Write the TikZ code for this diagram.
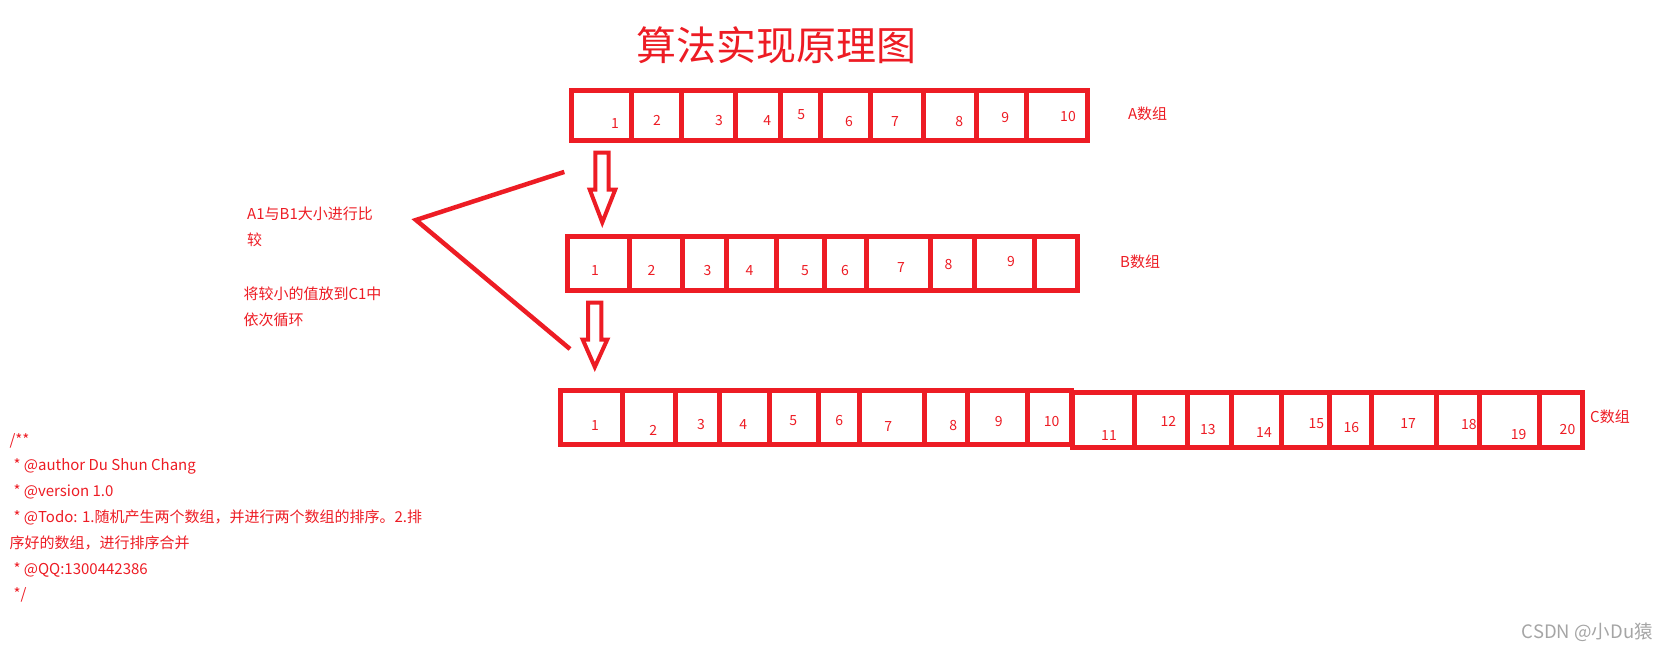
\documentclass[tikz,border=0pt]{standalone}
\usepackage{fontspec}
\setmainfont{Noto Sans CJK SC}
\usepackage{xcolor}
\definecolor{paintred}{RGB}{237,28,36}
\definecolor{markgray}{RGB}{165,165,165}

\begin{document}
\begin{tikzpicture}[x=1pt, y=-1pt,
    box/.style={draw=paintred, line width=5pt},
    hollow/.style={draw=paintred, line width=4pt, line join=miter},
    cell/.style={text=paintred, font=\fontsize{14}{16}\selectfont, inner sep=0pt, anchor=base},
    note/.style={text=paintred, font=\fontsize{15}{17}\selectfont, inner sep=0pt, anchor=base west}]
    \useasboundingbox (0,0) rectangle (1673,648);

    % title
    \node[note, font=\fontsize{40}{45}\selectfont] (title) at (636,60) {算法实现原理图};

    % A array
    \draw[box] (571.7,90.7) rectangle (1087.5,140.3);
    \draw[box] (631,90.7) -- (631,140.3) (681.5,90.7) -- (681.5,140.3)
        (735.5,90.7) -- (735.5,140.3) (780.2,90.7) -- (780.2,140.3)
        (820.4,90.7) -- (820.4,140.3) (870.2,90.7) -- (870.2,140.3)
        (923.8,90.7) -- (923.8,140.3) (976.6,90.7) -- (976.6,140.3)
        (1026.3,90.7) -- (1026.3,140.3);
    \node[cell] (a1) at (614.9,128.5) {1};
    \node[cell] (a2) at (657,125.2) {2};
    \node[cell] (a3) at (719,125.2) {3};
    \node[cell] (a4) at (767.2,125.2) {4};
    \node[cell] (a5) at (801.3,119.2) {5};
    \node[cell] (a6) at (849.1,126.9) {6};
    \node[cell] (a7) at (895,126.9) {7};
    \node[cell] (a8) at (959.3,126.9) {8};
    \node[cell] (a9) at (1005.3,122.9) {9};
    \node[cell] (a10) at (1068,121.2) {10};
    \node[note] (nameA) at (1127.8,119.6) {A数组};

    % B array
    \draw[box] (567.9,236.5) rectangle (1077.2,290);
    \draw[box] (629.6,236.5) -- (629.6,290) (682.5,236.5) -- (682.5,290)
        (726.4,236.5) -- (726.4,290) (776,236.5) -- (776,290)
        (824.5,236.5) -- (824.5,290) (866.4,236.5) -- (866.4,290)
        (930,236.5) -- (930,290) (974.6,236.5) -- (974.6,290)
        (1034,236.5) -- (1034,290);
    \node[cell] (b1) at (595,275.2) {1};
    \node[cell] (b2) at (651.4,275.2) {2};
    \node[cell] (b3) at (707.5,275.2) {3};
    \node[cell] (b4) at (749.6,275.2) {4};
    \node[cell] (b5) at (805,275.2) {5};
    \node[cell] (b6) at (845,275.2) {6};
    \node[cell] (b7) at (901,272.5) {7};
    \node[cell] (b8) at (948.6,269.2) {8};
    \node[cell] (b9) at (1011,266.9) {9};
    \node[note] (nameB) at (1120,267.9) {B数组};

    % C array, drawn in two halves
    \draw[box] (560.8,390.7) rectangle (1071.5,444.7);
    \draw[box] (1072,392.5) rectangle (1582.5,447);
    \draw[box] (622.3,390.7) -- (622.3,444.7) (675.5,390.7) -- (675.5,444.7)
        (719.3,390.7) -- (719.3,444.7) (769.7,390.7) -- (769.7,444.7)
        (818,390.7) -- (818,444.7) (859.4,390.7) -- (859.4,444.7)
        (924,390.7) -- (924,444.7) (967,390.7) -- (967,444.7)
        (1027.9,390.7) -- (1027.9,444.7);
    \draw[box] (1134,392.5) -- (1134,447) (1187.5,392.5) -- (1187.5,447)
        (1231.5,392.5) -- (1231.5,447) (1281.3,392.5) -- (1281.3,447)
        (1329.1,392.5) -- (1329.1,447) (1371.2,392.5) -- (1371.2,447)
        (1436.3,392.5) -- (1436.3,447) (1479.2,392.5) -- (1479.2,447)
        (1539.6,392.5) -- (1539.6,447);
    \node[cell] (c1) at (595,430.9) {1};
    \node[cell] (c2) at (653.3,435.2) {2};
    \node[cell] (c3) at (701,429.2) {3};
    \node[cell] (c4) at (743.3,429.2) {4};
    \node[cell] (c5) at (793.3,425.2) {5};
    \node[cell] (c6) at (839.3,425.2) {6};
    \node[cell] (c7) at (888.3,431.9) {7};
    \node[cell] (c8) at (953.3,430.9) {8};
    \node[cell] (c9) at (998.7,426.9) {9};
    \node[cell] (c10) at (1051.7,426.9) {10};
    \node[cell] (c11) at (1109,440.5) {11};
    \node[cell] (c12) at (1168.4,426.8) {12};
    \node[cell] (c13) at (1207.8,434.2) {13};
    \node[cell] (c14) at (1264,437.2) {14};
    \node[cell] (c15) at (1316.3,428.2) {15};
    \node[cell] (c16) at (1351.3,432) {16};
    \node[cell] (c17) at (1408.2,428.5) {17};
    \node[cell] (c18) at (1468.8,429.9) {18};
    \node[cell] (c19) at (1518.6,439.5) {19};
    \node[cell] (c20) at (1567.5,434.2) {20};
    \node[note] (nameC) at (1590,422.6) {C数组};

    % hollow arrows A -> B -> C
    \draw[hollow] (595.3,152.7) -- (608.7,152.7) -- (608.7,189.5) -- (615.3,189.5)
        -- (602.3,222.4) -- (589.7,189.5) -- (595.3,189.5) -- cycle;
    \draw[hollow] (588,302.7) -- (601.3,302.7) -- (601.3,339.5) -- (607.3,339.5)
        -- (594.8,367) -- (582.7,339.5) -- (588,339.5) -- cycle;

    % compare bracket
    \coordinate (cmpA) at (564.3,171.9);
    \coordinate (cmpV) at (416,220);
    \coordinate (cmpC) at (570,349);
    \draw[paintred, line width=4.5pt, line join=miter] (cmpA) -- (cmpV) -- (cmpC);

    \node[note] (cmp1) at (247,219.5) {A1与B1大小进行比};
    \node[note] (cmp2) at (247,245.5) {较};
    \node[note] (put1) at (243.3,299.8) {将较小的值放到C1中};
    \node[note] (put2) at (243.3,325.5) {依次循环};

    % comment block
    \node[note] (doc0) at (9.3,445) {/**};
    \node[note] (doc1) at (13.3,470.8) {* @author Du Shun Chang};
    \node[note] (doc2) at (13.3,496.6) {* @version 1.0};
    \node[note] (doc3) at (13.3,522.4) {* @Todo: 1.随机产生两个数组，并进行两个数组的排序。2.排};
    \node[note] (doc4) at (9.3,548.2) {序好的数组，进行排序合并};
    \node[note] (doc5) at (13.3,574) {* @QQ:1300442386};
    \node[note] (doc6) at (13.3,599.8) {*/};

    % watermark
    \node[note, text=markgray, font=\fontsize{18.5}{21}\selectfont] (mark) at (1521.7,638.3) {CSDN @小Du猿};
\end{tikzpicture}
\end{document}
